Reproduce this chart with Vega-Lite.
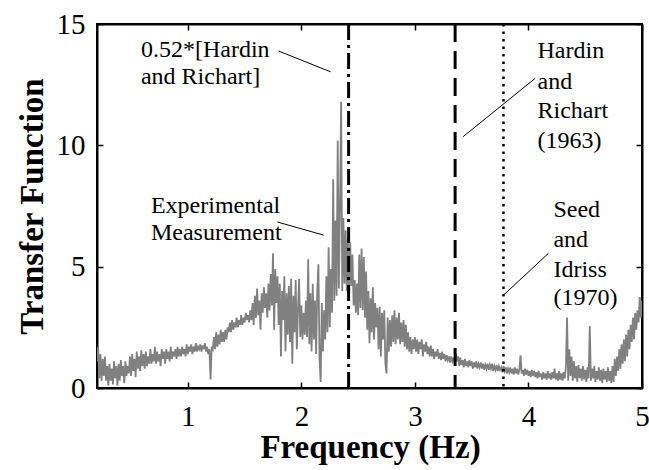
{
  "$schema": "https://vega.github.io/schema/vega-lite/v6.json",
  "width": 545,
  "height": 364,
  "autosize": {"type": "none"},
  "padding": {"left": 97, "top": 24, "right": 7, "bottom": 82},
  "background": "white",
  "config": {
    "view": {"stroke": "black", "strokeWidth": 2},
    "font": "Liberation Serif",
    "axis": {
      "domainColor": "black", "domainWidth": 2,
      "tickColor": "black", "tickWidth": 1.5, "tickSize": -6,
      "labelFont": "Liberation Serif", "labelFontSize": 29, "labelColor": "black",
      "titleFont": "Liberation Serif", "titleFontSize": 33, "titleFontWeight": "bold", "titleColor": "black",
      "grid": false, "labelFlush": false, "labelOverlap": false
    }
  },
  "datasets": {
    "tf": [
      {"f":0.20,"t":1.1},{"f":0.21,"t":1.7},{"f":0.22,"t":0.4},{"f":0.23,"t":1.4},{"f":0.24,"t":0.3},{"f":0.25,"t":1.2},{"f":0.26,"t":0.5},{"f":0.27,"t":1.3},{"f":0.28,"t":0.3},{"f":0.29,"t":0.9},
      {"f":0.30,"t":0.1},{"f":0.31,"t":1.0},{"f":0.32,"t":0.3},{"f":0.33,"t":0.8},{"f":0.34,"t":0.15},{"f":0.35,"t":1.1},{"f":0.36,"t":0.4},{"f":0.37,"t":0.9},{"f":0.38,"t":0.1},{"f":0.39,"t":1.0},
      {"f":0.40,"t":0.3},{"f":0.41,"t":1.15},{"f":0.42,"t":0.5},{"f":0.43,"t":0.9},{"f":0.44,"t":0.2},{"f":0.45,"t":1.1},{"f":0.46,"t":0.5},{"f":0.47,"t":0.9},{"f":0.48,"t":0.6},{"f":0.49,"t":1.3},
      {"f":0.50,"t":0.5},{"f":0.51,"t":1.4},{"f":0.52,"t":0.7},{"f":0.53,"t":1.2},{"f":0.54,"t":0.45},{"f":0.55,"t":1.5},{"f":0.56,"t":0.8},{"f":0.57,"t":1.3},{"f":0.58,"t":0.7},{"f":0.59,"t":1.55},
      {"f":0.60,"t":0.9},{"f":0.61,"t":1.4},{"f":0.62,"t":0.8},{"f":0.63,"t":1.5},{"f":0.64,"t":0.9},{"f":0.65,"t":1.3},{"f":0.66,"t":1.0},{"f":0.67,"t":1.6},{"f":0.68,"t":1.0},{"f":0.69,"t":1.4},
      {"f":0.70,"t":1.1},{"f":0.71,"t":1.7},{"f":0.72,"t":1.0},{"f":0.73,"t":1.5},{"f":0.74,"t":1.1},{"f":0.75,"t":1.4},{"f":0.76,"t":0.9},{"f":0.77,"t":1.6},{"f":0.78,"t":1.2},{"f":0.79,"t":1.5},
      {"f":0.80,"t":1.0},{"f":0.81,"t":1.6},{"f":0.82,"t":1.2},{"f":0.83,"t":1.5},{"f":0.84,"t":1.1},{"f":0.85,"t":1.7},{"f":0.86,"t":1.2},{"f":0.87,"t":1.5},{"f":0.88,"t":1.3},{"f":0.89,"t":1.6},
      {"f":0.90,"t":1.2},{"f":0.91,"t":1.7},{"f":0.92,"t":1.3},{"f":0.93,"t":1.6},{"f":0.94,"t":1.3},{"f":0.95,"t":1.7},{"f":0.96,"t":1.4},{"f":0.97,"t":1.6},{"f":0.98,"t":1.3},{"f":0.99,"t":1.8},
      {"f":1.00,"t":1.4},{"f":1.01,"t":1.7},{"f":1.02,"t":1.5},{"f":1.03,"t":1.8},{"f":1.04,"t":1.4},{"f":1.05,"t":1.7},{"f":1.06,"t":1.5},{"f":1.07,"t":1.85},{"f":1.08,"t":1.5},{"f":1.09,"t":1.7},
      {"f":1.10,"t":1.6},{"f":1.11,"t":1.8},{"f":1.12,"t":1.5},{"f":1.13,"t":1.75},{"f":1.14,"t":1.6},{"f":1.15,"t":1.85},{"f":1.16,"t":1.5},{"f":1.17,"t":1.7},{"f":1.18,"t":1.4},{"f":1.19,"t":1.6},
      {"f":1.20,"t":0.35},{"f":1.21,"t":1.7},{"f":1.22,"t":1.6},{"f":1.23,"t":2.1},{"f":1.24,"t":1.6},{"f":1.25,"t":2.3},{"f":1.26,"t":1.7},{"f":1.27,"t":2.2},{"f":1.28,"t":1.8},{"f":1.29,"t":2.4},
      {"f":1.30,"t":1.9},{"f":1.31,"t":2.3},{"f":1.32,"t":1.9},{"f":1.33,"t":2.4},{"f":1.34,"t":2.0},{"f":1.35,"t":2.5},{"f":1.36,"t":2.3},{"f":1.37,"t":2.7},{"f":1.38,"t":2.3},{"f":1.39,"t":2.8},
      {"f":1.40,"t":2.4},{"f":1.41,"t":2.7},{"f":1.42,"t":2.5},{"f":1.43,"t":2.9},{"f":1.44,"t":2.5},{"f":1.45,"t":2.8},{"f":1.46,"t":2.6},{"f":1.47,"t":3.0},{"f":1.48,"t":2.6},{"f":1.49,"t":2.9},
      {"f":1.50,"t":2.7},{"f":1.51,"t":3.1},{"f":1.52,"t":2.8},{"f":1.53,"t":3.0},{"f":1.54,"t":2.7},{"f":1.55,"t":3.2},{"f":1.56,"t":2.8},{"f":1.57,"t":3.5},{"f":1.58,"t":2.6},{"f":1.59,"t":3.8},
      {"f":1.60,"t":2.9},{"f":1.61,"t":4.1},{"f":1.62,"t":3.0},{"f":1.63,"t":3.6},{"f":1.64,"t":2.4},{"f":1.65,"t":3.9},{"f":1.66,"t":3.1},{"f":1.67,"t":4.15},{"f":1.68,"t":3.3},{"f":1.69,"t":3.9},
      {"f":1.70,"t":2.9},{"f":1.71,"t":4.3},{"f":1.72,"t":3.2},{"f":1.73,"t":4.7},{"f":1.74,"t":3.4},{"f":1.75,"t":5.55},{"f":1.76,"t":2.4},{"f":1.77,"t":4.9},{"f":1.78,"t":3.5},{"f":1.79,"t":4.6},
      {"f":1.80,"t":2.6},{"f":1.81,"t":4.3},{"f":1.82,"t":1.3},{"f":1.83,"t":4.0},{"f":1.84,"t":2.8},{"f":1.85,"t":4.6},{"f":1.86,"t":1.5},{"f":1.87,"t":3.9},{"f":1.88,"t":2.2},{"f":1.89,"t":4.2},
      {"f":1.90,"t":1.9},{"f":1.91,"t":4.5},{"f":1.92,"t":1.0},{"f":1.93,"t":3.8},{"f":1.94,"t":2.3},{"f":1.95,"t":4.45},{"f":1.96,"t":1.6},{"f":1.97,"t":3.2},{"f":1.98,"t":4.5},{"f":1.99,"t":2.1},
      {"f":2.00,"t":3.4},{"f":2.01,"t":2.0},{"f":2.02,"t":3.1},{"f":2.03,"t":2.2},{"f":2.04,"t":3.6},{"f":2.05,"t":2.1},{"f":2.06,"t":5.3},{"f":2.07,"t":1.8},{"f":2.08,"t":3.9},{"f":2.09,"t":1.5},
      {"f":2.10,"t":4.3},{"f":2.11,"t":2.0},{"f":2.12,"t":3.6},{"f":2.13,"t":1.4},{"f":2.14,"t":4.0},{"f":2.15,"t":5.1},{"f":2.16,"t":1.2},{"f":2.17,"t":0.25},{"f":2.18,"t":3.5},{"f":2.19,"t":1.5},
      {"f":2.20,"t":3.2},{"f":2.21,"t":2.0},{"f":2.22,"t":4.6},{"f":2.23,"t":2.3},{"f":2.24,"t":5.8},{"f":2.25,"t":2.5},{"f":2.26,"t":4.9},{"f":2.27,"t":3.1},{"f":2.28,"t":8.6},{"f":2.29,"t":3.6},
      {"f":2.30,"t":6.9},{"f":2.31,"t":3.8},{"f":2.32,"t":10.2},{"f":2.33,"t":4.1},{"f":2.34,"t":7.5},{"f":2.35,"t":11.8},{"f":2.36,"t":4.0},{"f":2.37,"t":7.0},{"f":2.38,"t":4.3},{"f":2.39,"t":6.5},
      {"f":2.40,"t":4.0},{"f":2.41,"t":6.2},{"f":2.42,"t":3.9},{"f":2.43,"t":6.0},{"f":2.44,"t":4.2},{"f":2.45,"t":5.5},{"f":2.46,"t":3.4},{"f":2.47,"t":4.45},{"f":2.48,"t":3.1},{"f":2.49,"t":4.3},
      {"f":2.50,"t":3.0},{"f":2.51,"t":5.5},{"f":2.52,"t":3.3},{"f":2.53,"t":5.75},{"f":2.54,"t":3.2},{"f":2.55,"t":5.4},{"f":2.56,"t":2.9},{"f":2.57,"t":4.8},{"f":2.58,"t":2.4},{"f":2.59,"t":4.0},
      {"f":2.60,"t":1.85},{"f":2.61,"t":3.7},{"f":2.62,"t":2.3},{"f":2.63,"t":4.15},{"f":2.64,"t":2.0},{"f":2.65,"t":3.5},{"f":2.66,"t":2.5},{"f":2.67,"t":3.3},{"f":2.68,"t":1.6},{"f":2.69,"t":3.35},
      {"f":2.70,"t":1.3},{"f":2.71,"t":3.1},{"f":2.72,"t":2.0},{"f":2.73,"t":3.2},{"f":2.74,"t":1.0},{"f":2.75,"t":0.6},{"f":2.76,"t":2.9},{"f":2.77,"t":1.5},{"f":2.78,"t":2.8},{"f":2.79,"t":1.7},
      {"f":2.80,"t":3.0},{"f":2.81,"t":1.9},{"f":2.82,"t":3.2},{"f":2.83,"t":1.8},{"f":2.84,"t":2.9},{"f":2.85,"t":2.0},{"f":2.86,"t":3.1},{"f":2.87,"t":1.8},{"f":2.88,"t":2.7},{"f":2.89,"t":1.9},
      {"f":2.90,"t":2.8},{"f":2.91,"t":1.7},{"f":2.92,"t":2.6},{"f":2.93,"t":1.6},{"f":2.94,"t":2.3},{"f":2.95,"t":1.5},{"f":2.96,"t":2.1},{"f":2.97,"t":1.4},{"f":2.98,"t":2.0},{"f":2.99,"t":1.6},
      {"f":3.00,"t":2.1},{"f":3.01,"t":1.5},{"f":3.02,"t":2.0},{"f":3.03,"t":1.4},{"f":3.04,"t":1.9},{"f":3.05,"t":1.6},{"f":3.06,"t":2.0},{"f":3.07,"t":1.3},{"f":3.08,"t":1.8},{"f":3.09,"t":1.5},
      {"f":3.10,"t":1.9},{"f":3.11,"t":1.4},{"f":3.12,"t":1.7},{"f":3.13,"t":1.3},{"f":3.14,"t":1.75},{"f":3.15,"t":1.3},{"f":3.16,"t":1.6},{"f":3.17,"t":1.2},{"f":3.18,"t":1.5},{"f":3.19,"t":1.3},
      {"f":3.20,"t":1.6},{"f":3.21,"t":1.2},{"f":3.22,"t":1.45},{"f":3.23,"t":1.15},{"f":3.24,"t":1.5},{"f":3.25,"t":1.2},{"f":3.26,"t":1.4},{"f":3.27,"t":1.1},{"f":3.28,"t":1.35},{"f":3.29,"t":1.15},
      {"f":3.30,"t":1.3},{"f":3.31,"t":1.05},{"f":3.32,"t":1.3},{"f":3.33,"t":1.1},{"f":3.34,"t":1.25},{"f":3.35,"t":1.0},{"f":3.36,"t":1.4},{"f":3.37,"t":1.1},{"f":3.38,"t":1.3},{"f":3.39,"t":0.9},
      {"f":3.40,"t":1.25},{"f":3.41,"t":0.95},{"f":3.42,"t":1.15},{"f":3.43,"t":0.85},{"f":3.44,"t":1.2},{"f":3.45,"t":0.9},{"f":3.46,"t":1.1},{"f":3.47,"t":0.85},{"f":3.48,"t":1.15},{"f":3.49,"t":0.9},
      {"f":3.50,"t":1.1},{"f":3.51,"t":0.8},{"f":3.52,"t":1.05},{"f":3.53,"t":0.85},{"f":3.54,"t":1.1},{"f":3.55,"t":0.8},{"f":3.56,"t":1.0},{"f":3.57,"t":0.85},{"f":3.58,"t":1.05},{"f":3.59,"t":0.8},
      {"f":3.60,"t":1.0},{"f":3.61,"t":0.75},{"f":3.62,"t":0.95},{"f":3.63,"t":0.8},{"f":3.64,"t":1.0},{"f":3.65,"t":0.75},{"f":3.66,"t":0.95},{"f":3.67,"t":0.8},{"f":3.68,"t":1.0},{"f":3.69,"t":0.7},
      {"f":3.70,"t":0.9},{"f":3.71,"t":0.75},{"f":3.72,"t":0.95},{"f":3.73,"t":0.7},{"f":3.74,"t":0.9},{"f":3.75,"t":0.75},{"f":3.76,"t":0.85},{"f":3.77,"t":0.65},{"f":3.78,"t":0.9},{"f":3.79,"t":0.7},
      {"f":3.80,"t":0.85},{"f":3.81,"t":0.6},{"f":3.82,"t":0.8},{"f":3.83,"t":0.65},{"f":3.84,"t":0.85},{"f":3.85,"t":0.6},{"f":3.86,"t":0.8},{"f":3.87,"t":0.55},{"f":3.88,"t":0.85},{"f":3.89,"t":0.6},
      {"f":3.90,"t":0.8},{"f":3.91,"t":0.55},{"f":3.92,"t":0.75},{"f":3.93,"t":1.35},{"f":3.94,"t":0.6},{"f":3.95,"t":0.75},{"f":3.96,"t":0.5},{"f":3.97,"t":0.8},{"f":3.98,"t":0.55},{"f":3.99,"t":0.75},
      {"f":4.00,"t":0.5},{"f":4.01,"t":0.7},{"f":4.02,"t":0.45},{"f":4.03,"t":0.75},{"f":4.04,"t":0.5},{"f":4.05,"t":0.7},{"f":4.06,"t":0.45},{"f":4.07,"t":0.65},{"f":4.08,"t":0.4},{"f":4.09,"t":0.7},
      {"f":4.10,"t":0.45},{"f":4.11,"t":0.6},{"f":4.12,"t":0.35},{"f":4.13,"t":0.65},{"f":4.14,"t":0.4},{"f":4.15,"t":0.6},{"f":4.16,"t":0.35},{"f":4.17,"t":0.7},{"f":4.18,"t":0.4},{"f":4.19,"t":0.6},
      {"f":4.20,"t":0.35},{"f":4.21,"t":0.65},{"f":4.22,"t":0.4},{"f":4.23,"t":0.8},{"f":4.24,"t":0.35},{"f":4.25,"t":0.6},{"f":4.26,"t":0.3},{"f":4.27,"t":0.7},{"f":4.28,"t":0.35},{"f":4.29,"t":0.6},
      {"f":4.30,"t":0.3},{"f":4.31,"t":0.65},{"f":4.32,"t":0.4},{"f":4.33,"t":0.9},{"f":4.34,"t":2.9},{"f":4.35,"t":0.3},{"f":4.36,"t":1.6},{"f":4.37,"t":0.5},{"f":4.38,"t":1.3},{"f":4.39,"t":0.3},
      {"f":4.40,"t":1.1},{"f":4.41,"t":0.4},{"f":4.42,"t":0.9},{"f":4.43,"t":0.25},{"f":4.44,"t":0.95},{"f":4.45,"t":0.4},{"f":4.46,"t":0.8},{"f":4.47,"t":0.3},{"f":4.48,"t":0.9},{"f":4.49,"t":0.35},
      {"f":4.50,"t":0.75},{"f":4.51,"t":0.25},{"f":4.52,"t":0.85},{"f":4.53,"t":0.4},{"f":4.54,"t":2.55},{"f":4.55,"t":0.3},{"f":4.56,"t":0.8},{"f":4.57,"t":0.4},{"f":4.58,"t":0.9},{"f":4.59,"t":0.25},
      {"f":4.60,"t":0.7},{"f":4.61,"t":0.35},{"f":4.62,"t":0.85},{"f":4.63,"t":0.3},{"f":4.64,"t":0.75},{"f":4.65,"t":0.2},{"f":4.66,"t":0.8},{"f":4.67,"t":0.35},{"f":4.68,"t":0.7},{"f":4.69,"t":0.25},
      {"f":4.70,"t":0.85},{"f":4.71,"t":0.3},{"f":4.72,"t":0.7},{"f":4.73,"t":0.2},{"f":4.74,"t":0.9},{"f":4.75,"t":0.25},{"f":4.76,"t":1.2},{"f":4.77,"t":0.5},{"f":4.78,"t":1.3},{"f":4.79,"t":0.7},
      {"f":4.80,"t":1.6},{"f":4.81,"t":0.8},{"f":4.82,"t":1.8},{"f":4.83,"t":1.0},{"f":4.84,"t":2.0},{"f":4.85,"t":1.1},{"f":4.86,"t":2.2},{"f":4.87,"t":1.3},{"f":4.88,"t":2.4},{"f":4.89,"t":1.6},
      {"f":4.90,"t":2.6},{"f":4.91,"t":1.9},{"f":4.92,"t":2.9},{"f":4.93,"t":2.0},{"f":4.94,"t":3.1},{"f":4.95,"t":2.4},{"f":4.96,"t":3.2},{"f":4.97,"t":2.7},{"f":4.98,"t":3.75},{"f":4.99,"t":2.9},
      {"f":5.00,"t":3.6}
    ],
    "labels": [
      {"f":0.587,"t":13.65,"label":"0.52*[Hardin"},
      {"f":0.587,"t":12.53,"label":"and Richart]"},
      {"f":0.675,"t":7.21,"label":"Experimental"},
      {"f":0.675,"t":6.10,"label":"Measurement"},
      {"f":4.08,"t":13.58,"label":"Hardin"},
      {"f":4.08,"t":12.31,"label":"and"},
      {"f":4.08,"t":11.11,"label":"Richart"},
      {"f":4.08,"t":9.89,"label":"(1963)"},
      {"f":4.22,"t":7.06,"label":"Seed"},
      {"f":4.22,"t":5.82,"label":"and"},
      {"f":4.22,"t":4.59,"label":"Idriss"},
      {"f":4.22,"t":3.42,"label":"(1970)"}
    ],
    "leaders": [
      {"f1":1.80,"t1":13.885,"f2":2.257,"t2":13.03},
      {"f1":1.789,"t1":6.84,"f2":2.196,"t2":6.30},
      {"f1":3.424,"t1":10.355,"f2":4.059,"t2":12.76},
      {"f1":3.781,"t1":3.83,"f2":4.176,"t2":5.55}
    ]
  },
  "layer": [
    {
      "data": {"name": "tf"},
      "mark": {"type": "line", "color": "#808080", "strokeWidth": 1.8, "clip": true},
      "encoding": {
        "x": {"field": "f", "type": "quantitative", "scale": {"domain": [0.2, 5], "nice": false, "zero": false},
              "axis": {"orient": "bottom", "values": [1, 2, 3, 4, 5], "format": "d", "title": "Frequency (Hz)",
                       "labelBaseline": "alphabetic", "labelPadding": 43,
                       "titleX": 273, "titleY": 69, "titleBaseline": "alphabetic", "titleAlign": "center"}},
        "y": {"field": "t", "type": "quantitative", "scale": {"domain": [0, 15], "nice": false, "zero": false},
              "axis": {"orient": "left", "values": [0, 5, 10, 15], "format": "d", "title": "Transfer Function",
                       "labelPadding": 18,
                       "titleX": -55, "titleY": 182, "titleAngle": -90, "titleBaseline": "alphabetic", "titleAlign": "center"}}
      }
    },
    {
      "data": {"values": [{"f": 2.416}]},
      "mark": {"type": "rule", "color": "black", "strokeWidth": 3, "strokeDash": [16, 5, 3, 5]},
      "encoding": {
        "x": {"field": "f", "type": "quantitative", "scale": {"domain": [0.2, 5], "nice": false, "zero": false},
              "axis": {"orient": "top", "values": [1, 2, 3, 4, 5], "labels": false, "title": null}}
      }
    },
    {
      "data": {"values": [{"f": 3.354}]},
      "mark": {"type": "rule", "color": "black", "strokeWidth": 3, "strokeDash": [18, 9]},
      "encoding": {
        "x": {"field": "f", "type": "quantitative", "scale": {"domain": [0.2, 5], "nice": false, "zero": false}, "axis": null}
      }
    },
    {
      "data": {"values": [{"f": 3.78}]},
      "mark": {"type": "rule", "color": "black", "strokeWidth": 2.5, "strokeDash": [2.5, 5]},
      "encoding": {
        "x": {"field": "f", "type": "quantitative", "scale": {"domain": [0.2, 5], "nice": false, "zero": false}, "axis": null}
      }
    },
    {
      "data": {"name": "leaders"},
      "mark": {"type": "rule", "color": "black", "strokeWidth": 1},
      "encoding": {
        "x": {"field": "f1", "type": "quantitative", "scale": {"domain": [0.2, 5], "nice": false, "zero": false}, "axis": null},
        "y": {"field": "t1", "type": "quantitative", "scale": {"domain": [0, 15], "nice": false, "zero": false}, "axis": null},
        "x2": {"field": "f2"},
        "y2": {"field": "t2"}
      }
    },
    {
      "data": {"name": "labels"},
      "mark": {"type": "text", "align": "left", "baseline": "alphabetic", "font": "Liberation Serif", "fontSize": 24, "color": "black"},
      "encoding": {
        "x": {"field": "f", "type": "quantitative", "scale": {"domain": [0.2, 5], "nice": false, "zero": false}, "axis": null},
        "y": {"field": "t", "type": "quantitative", "scale": {"domain": [0, 15], "nice": false, "zero": false},
              "axis": {"orient": "right", "values": [0, 5, 10, 15], "labels": false, "title": null}},
        "text": {"field": "label"}
      }
    }
  ],
  "resolve": {"axis": {"x": "independent", "y": "independent"}}
}
